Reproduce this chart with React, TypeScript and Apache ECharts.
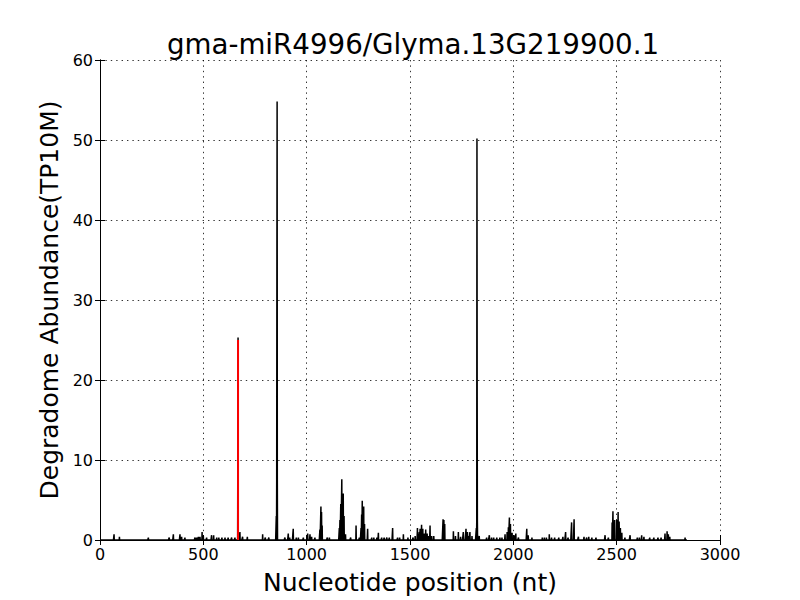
import React, { useEffect, useRef } from "react";
import * as echarts from "echarts";

const TITLE = "gma-miR4996/Glyma.13G219900.1";
const X_LABEL = "Nucleotide position (nt)";
const Y_LABEL = "Degradome Abundance(TP10M)";
const TRANSCRIPT_LENGTH = 2840;

const spikePositions = [
  68, 94, 234, 335, 355, 387, 395, 411, 460, 468, 476, 484, 494, 500, 516, 540, 550, 565, 575, 590,
  605, 620, 637, 653, 668, 677, 690, 713, 787, 800, 817, 853, 855, 856, 857, 858, 895, 911, 918, 935,
  950, 960, 984, 1005, 1016, 1024, 1040, 1064, 1069, 1072, 1075, 1100, 1110, 1158, 1161, 1165, 1170,
  1173, 1177, 1181, 1188, 1213, 1239, 1255, 1263, 1266, 1269, 1273, 1276, 1280, 1295, 1315, 1325,
  1340, 1347, 1363, 1375, 1388, 1400, 1416, 1440, 1450, 1468, 1490, 1515, 1525, 1536, 1545, 1549,
  1556, 1562, 1570, 1576, 1583, 1590, 1597, 1605, 1615, 1660, 1664, 1668, 1710, 1720, 1734, 1745,
  1758, 1771, 1778, 1785, 1790, 1800, 1821, 1823, 1824, 1825, 1826, 1835, 1871, 1884, 1895, 1905,
  1920, 1935, 1945, 1960, 1970, 1976, 1981, 1986, 1994, 2005, 2012, 2025, 2065, 2072, 2090, 2140,
  2150, 2160, 2174, 2185, 2200, 2220, 2240, 2253, 2265, 2282, 2294, 2315, 2342, 2355, 2365, 2380,
  2400, 2444, 2460, 2478, 2482, 2490, 2500, 2507, 2512, 2518, 2525, 2540, 2565, 2600, 2610, 2621,
  2632, 2660, 2680, 2700, 2715, 2734, 2744, 2750, 2757, 2831,
];

const spikeValues = [
  0.7, 0.4, 0.3, 0.3, 0.7, 0.7, 0.4, 0.3, 0.3, 0.3, 0.4, 0.4, 1.0, 0.5, 0.3, 0.6, 0.6, 0.3, 0.3, 0.3,
  0.3, 0.3, 0.3, 0.3, 25.3, 1.0, 0.4, 0.4, 0.7, 0.3, 0.3, 3.0, 7.5, 34.2, 54.8, 7.5, 0.3, 0.8, 0.3, 1.4,
  0.3, 0.3, 0.3, 0.8, 0.7, 0.4, 0.3, 1.3, 4.2, 3.5, 1.8, 0.3, 0.3, 1.5, 2.5, 4.5, 7.6,
  5.5, 5.8, 3.0, 0.7, 0.3, 1.8, 0.3, 1.5, 3.2, 4.9, 3.5, 4.2, 2.0, 1.4, 0.3, 0.3,
  0.3, 0.9, 0.3, 0.3, 0.3, 0.3, 1.5, 0.3, 0.3, 0.7, 0.3, 0.3, 0.5, 1.5, 1.0, 1.4,
  1.9, 1.4, 0.8, 1.3, 0.8, 0.5, 1.8, 0.5, 0.5, 2.6, 2.5, 2.0, 1.1, 0.5, 1.0, 0.4,
  1.0, 1.4, 1.0, 0.5, 1.0, 0.5, 1.5, 2.5, 50.2, 18, 2.5, 0.5, 0.3, 0.6, 0.3, 0.3,
  0.3, 0.3, 0.3, 0.7, 1.0, 1.6, 2.8, 2.0, 0.9, 0.6, 0.8, 0.3, 1.4, 0.6, 0.3, 0.3,
  0.3, 0.3, 0.7, 0.3, 0.3, 0.3, 0.4, 1.0, 0.3, 2.2, 2.6, 0.4, 0.4, 0.3, 0.4, 0.3,
  0.3, 0.6, 0.3, 2.2, 3.6, 2.5, 2.5, 3.5, 2.3, 1.5, 0.9, 0.3, 0.6, 0.3, 0.3, 0.6,
  0.4, 0.3, 0.3, 0.3, 0.3, 0.8, 1.1, 0.7, 0.4, 0.3,
];

const cleavagePosition = 668;
const cleavageValue = 25.3;

const xTicks = [0, 500, 1000, 1500, 2000, 2500, 3000];
const yTicks = [0, 10, 20, 30, 40, 50, 60];

const FONT = "DejaVu Sans";

export default function App() {
  const ref = useRef<HTMLDivElement>(null);

  useEffect(() => {
    if (!ref.current) return;
    const chart = echarts.init(ref.current, undefined, { renderer: "svg" });

    const lookup = new Map<number, number>();
    spikePositions.forEach((p, i) => lookup.set(p, spikeValues[i]));
    const profile: [number, number][] = [];
    for (let p = 1; p <= TRANSCRIPT_LENGTH; p++) {
      profile.push([p, lookup.get(p) ?? 0]);
    }

    const tickStyle = { show: true, inside: true, length: 5, lineStyle: { color: "#000", width: 1 } };
    const axisLineStyle = { show: true, lineStyle: { color: "#000", width: 1 } };
    const labelStyle = { color: "#000", fontFamily: FONT, fontSize: 16 };
    const gridLine = { show: true, lineStyle: { color: "#000", width: 0.8, type: [1.4, 4] } };

    chart.setOption({
      animation: false,
      backgroundColor: "#fff",
      title: {
        text: TITLE,
        left: 408,
        textAlign: "center",
        top: 25,
        textStyle: { fontFamily: FONT, fontSize: 27.7, fontWeight: "normal", color: "#000" },
      },
      grid: { left: 100, right: 80, top: 60, bottom: 60, containLabel: false },
      xAxis: [
        {
          type: "value",
          min: xTicks[0],
          max: xTicks[xTicks.length - 1],
          interval: 500,
          name: X_LABEL,
          nameLocation: "middle",
          nameGap: 30,
          nameTextStyle: { fontFamily: FONT, fontSize: 25, color: "#000", verticalAlign: "top" },
          axisLine: axisLineStyle,
          axisTick: tickStyle,
          axisLabel: { ...labelStyle, margin: 6, formatter: (v: number) => String(v) },
          splitLine: gridLine,
        },
        {
          type: "value",
          position: "top",
          min: xTicks[0],
          max: xTicks[xTicks.length - 1],
          interval: 500,
          axisLine: axisLineStyle,
          axisTick: tickStyle,
          axisLabel: { show: false },
          splitLine: { show: false },
        },
      ],
      yAxis: [
        {
          type: "value",
          min: yTicks[0],
          max: yTicks[yTicks.length - 1],
          interval: 10,
          name: Y_LABEL,
          nameLocation: "middle",
          nameGap: 37,
          nameRotate: 90,
          nameTextStyle: { fontFamily: FONT, fontSize: 25, color: "#000", verticalAlign: "bottom" },
          axisLine: axisLineStyle,
          axisTick: tickStyle,
          axisLabel: { ...labelStyle, margin: 7, formatter: (v: number) => String(v) },
          splitLine: gridLine,
        },
        {
          type: "value",
          position: "right",
          min: yTicks[0],
          max: yTicks[yTicks.length - 1],
          interval: 10,
          axisLine: axisLineStyle,
          axisTick: tickStyle,
          axisLabel: { show: false },
          splitLine: { show: false },
        },
      ],
      series: [
        {
          type: "line",
          data: profile,
          xAxisIndex: 0,
          yAxisIndex: 0,
          showSymbol: false,
          symbol: "none",
          lineStyle: { color: "#000", width: 1.5 },
          z: 3,
        },
        {
          type: "line",
          data: [
            [cleavagePosition, 0],
            [cleavagePosition, cleavageValue - 0.3],
          ],
          showSymbol: false,
          symbol: "none",
          lineStyle: { color: "#ff0000", width: 2 },
          z: 4,
        },
      ],
    });

    return () => chart.dispose();
  }, []);

  return <div ref={ref} style={{ width: 800, height: 600, position: "absolute", left: 0, top: 0 }} />;
}
